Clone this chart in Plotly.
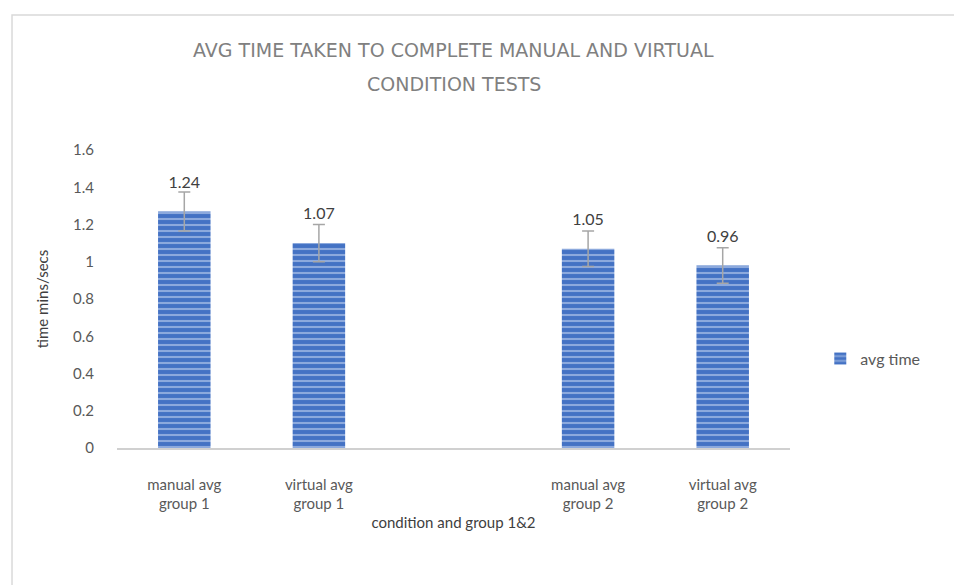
import plotly.graph_objects as go

# data
categories = ["manual avg<br>group 1", "virtual avg<br>group 1", " ",
              "manual avg<br>group 2", "virtual avg<br>group 2"]
bar_cats = ["manual avg<br>group 1", "virtual avg<br>group 1",
            "manual avg<br>group 2", "virtual avg<br>group 2"]
avg_time = [1.27, 1.10, 1.07, 0.98]
err = [0.105, 0.10, 0.095, 0.095]
labels = ["1.24", "1.07", "1.05", "0.96"]

blue = "#4472C4"
grey_txt = "#595959"
font_fam = "Lato, 'Open Sans', sans-serif"
title_fam = "'DejaVu Sans', sans-serif"

fig = go.Figure()

fig.add_trace(go.Bar(
    x=bar_cats,
    y=avg_time,
    name="avg time",
    width=0.39,
    marker=dict(
        color=blue,
        line=dict(width=0),
        pattern=dict(shape="-", fgcolor="#d4e0f5", bgcolor=blue,
                     size=6, solidity=0.35, fillmode="overlay"),
    ),
    error_y=dict(type="data", array=err, color="#a6a6a6",
                 thickness=1.5, width=6),
))

# data labels (pushed up using a transparent marker)
fig.add_trace(go.Scatter(
    x=bar_cats,
    y=avg_time,
    mode="markers+text",
    text=labels,
    textposition="top center",
    textfont=dict(family=font_fam, size=16, color="#404040"),
    marker=dict(size=30, color="rgba(0,0,0,0)"),
    showlegend=False,
    hoverinfo="skip",
    cliponaxis=False,
))

fig.update_layout(
    width=962,
    height=585,
    margin=dict(l=109, r=180, t=142, b=145),
    paper_bgcolor="white",
    plot_bgcolor="white",
    font=dict(family=font_fam, color=grey_txt, size=14),
    showlegend=True,
    legend=dict(x=1.045, y=0.3, xanchor="left", yanchor="middle",
                font=dict(size=16, color=grey_txt)),
    shapes=[dict(type="rect", xref="paper", yref="paper",
                 x0=-0.156, x1=1.4, y0=-0.48, y1=1.453,
                 line=dict(color="#d9d9d9", width=1.5))],
    annotations=[
        dict(text="AVG TIME TAKEN TO COMPLETE MANUAL AND VIRTUAL",
             xref="paper", yref="paper", x=0.5, y=1.335,
             showarrow=False, yanchor="middle",
             font=dict(family=title_fam, size=19, color="#808080")),
        dict(text="CONDITION TESTS",
             xref="paper", yref="paper", x=0.5, y=1.22,
             showarrow=False, yanchor="middle",
             font=dict(family=title_fam, size=19, color="#808080")),
    ],
)

fig.update_xaxes(
    type="category",
    categoryorder="array",
    categoryarray=categories,
    tickvals=categories,
    showline=True,
    linecolor="#d0d0d0",
    linewidth=1.5,
    showgrid=False,
    ticks="",
    ticklabelstandoff=22,
    tickfont=dict(size=15, color=grey_txt),
    title=dict(text="condition and group 1&2", standoff=6,
               font=dict(size=15, color="#404040")),
)

fig.update_yaxes(
    range=[0, 1.6],
    dtick=0.2,
    showgrid=False,
    showline=False,
    zeroline=False,
    ticks="",
    ticklabelstandoff=22,
    tickfont=dict(size=15, color=grey_txt),
    title=dict(text="time mins/secs", standoff=20,
               font=dict(size=15, color="#404040")),
)

fig.write_html("out.html")
